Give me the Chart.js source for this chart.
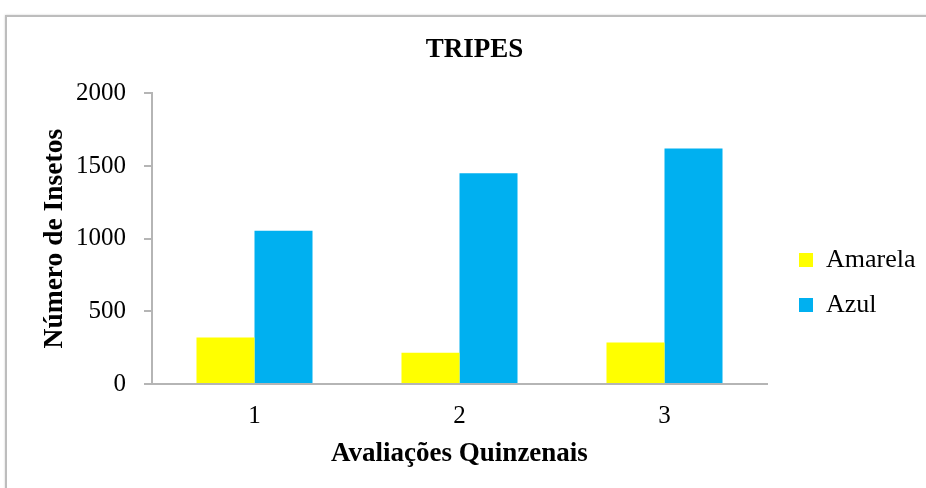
<!DOCTYPE html>
<html>
<head>
<meta charset="utf-8">
<script src="https://cdn.jsdelivr.net/npm/chart.js@4/dist/chart.umd.min.js"></script>
<style>
  html, body { margin: 0; padding: 0; background: #fff; overflow: hidden; }
  #wrap { position: relative; width: 926px; height: 488px; }
  #frame { position: absolute; left: 5px; top: 15px; width: 1000px; height: 600px;
           border: 2px solid #bdbdbd; box-shadow: 0 0 2px #d0d0d0; }
  #chart { position: absolute; left: 0; top: 0; }
</style>
</head>
<body>
<div id="wrap">
  <div id="frame"></div>
  <canvas id="chart" width="926" height="488"></canvas>
</div>
<script>
// dados
var avaliacoes = ['1', '2', '3'];
var amarela = [320, 215, 285];
var azul = [1055, 1450, 1620];
var yMax = 2000;
var yStep = 500;

var serif = 'Liberation Serif';

// posiciona legenda e titulo como no original
var placeBoxes = {
  id: 'placeBoxes',
  afterLayout: function(chart) {
    var lg = chart.legend;
    var w = lg.width, h = lg.height;
    lg.left = 780; lg.right = 780 + w;
    lg.top = 228; lg.bottom = 228 + h;
    var t = chart.titleBlock;
    t.left = 23; t.right = 926;
  }
};

var ctx = document.getElementById('chart').getContext('2d');
var tripes = new Chart(ctx, {
  type: 'bar',
  data: {
    labels: avaliacoes,
    datasets: [{
      label: 'Amarela',
      data: amarela,
      backgroundColor: '#FFFF00',
      borderWidth: 0,
    },
    {
      label: 'Azul',
      data: azul,
      backgroundColor: '#00B0F0',
      borderWidth: 0,
    }],
  },
  options: {
    responsive: false,
    animation: false,
    devicePixelRatio: 1,
    categoryPercentage: 0.566,
    barPercentage: 1,
    layout: { padding: { left: 0, right: 159, top: 0, bottom: 0 } },
    plugins: {
      title: {
        display: true,
        text: 'TRIPES',
        color: '#000',
        font: { family: serif, size: 27, weight: 'bold' },
        padding: { top: 33.8, bottom: 27.1 },
      },
      legend: {
        position: 'chartArea',
        align: 'start',
        labels: {
          color: '#000',
          font: { family: serif, size: 26 },
          boxWidth: 14,
          boxHeight: 14,
          padding: 19,
        },
      },
      tooltip: { enabled: false },
    },
    scales: {
      x: {
        afterFit: function(scale) { scale.height = 104; },
        grid: { display: false, drawTicks: false },
        border: { display: true, color: '#b5b5b5', width: 2 },
        ticks: {
          color: '#000',
          font: { family: serif, size: 25 },
          padding: 17,
        },
        title: {
          display: true,
          text: 'Avaliações Quinzenais',
          color: '#000',
          font: { family: serif, size: 27, weight: 'bold' },
          padding: { top: 0, bottom: 17.8 },
        },
      },
      y: {
        min: 0,
        max: yMax,
        afterFit: function(scale) { scale.width = 152; },
        grid: {
          drawOnChartArea: false,
          drawTicks: true,
          tickLength: 8,
          color: '#b5b5b5',
          lineWidth: 2,
        },
        border: { display: true, color: '#b5b5b5', width: 2 },
        ticks: {
          stepSize: yStep,
          color: '#000',
          font: { family: serif, size: 25 },
          padding: 18,
          callback: function(v) { return String(v); },
        },
        title: {
          display: true,
          text: 'Número de Insetos',
          color: '#000',
          font: { family: serif, size: 27.5, weight: 'bold' },
          padding: { top: 38.5, bottom: 0 },
        },
      },
    },
  },
  plugins: [placeBoxes],
});
</script>
</body>
</html>
